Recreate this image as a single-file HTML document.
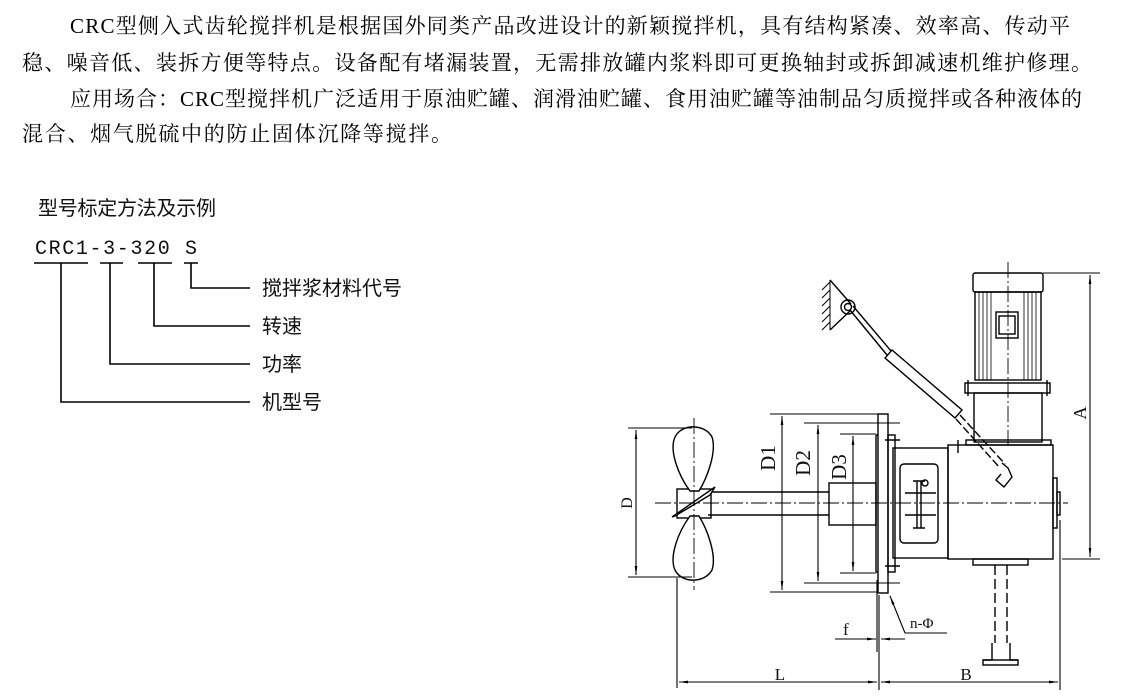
<!DOCTYPE html>
<html><head><meta charset="utf-8"><style>
html,body{margin:0;padding:0;background:#fff;}
svg{display:block;}
.t{font-family:"Liberation Serif","Noto Serif CJK SC",serif;font-size:21px;fill:#000;}
.s{font-family:"Liberation Sans","Noto Sans CJK SC",sans-serif;font-size:20px;fill:#111;}
</style></head><body>
<svg width="1131" height="699" viewBox="0 0 1131 699" xmlns="http://www.w3.org/2000/svg">
<defs>
<marker id="a" viewBox="0 0 10 10" refX="10" refY="5" markerWidth="9" markerHeight="9" orient="auto-start-reverse" markerUnits="userSpaceOnUse"><path d="M0,3.5 L10,5 L0,6.5 z" fill="#000"/></marker>
</defs>
<text class="t" x="70" y="33" textLength="1000" lengthAdjust="spacing">CRC型侧入式齿轮搅拌机是根据国外同类产品改进设计的新颖搅拌机，具有结构紧凑、效率高、传动平</text>
<text class="t" x="22" y="70" textLength="1070" lengthAdjust="spacing">稳、噪音低、装拆方便等特点。设备配有堵漏装置，无需排放罐内浆料即可更换轴封或拆卸减速机维护修理。</text>
<text class="t" x="70" y="106" textLength="1012" lengthAdjust="spacing">应用场合：CRC型搅拌机广泛适用于原油贮罐、润滑油贮罐、食用油贮罐等油制品匀质搅拌或各种液体的</text>
<text class="t" x="22" y="141" textLength="430" lengthAdjust="spacing">混合、烟气脱硫中的防止固体沉降等搅拌。</text>

<text class="s" x="38" y="215" textLength="178" lengthAdjust="spacing">型号标定方法及示例</text>
<text x="35" y="254" font-family="Liberation Mono,monospace" font-size="20" fill="#111" textLength="162" lengthAdjust="spacing">CRC1-3-320 S</text>
<g stroke="#000" stroke-width="1.6" fill="none">
<path d="M34 263H88M100 263H123M138 263H172M184 263H198"/>
<path d="M191 263V288H250M154 263V326H250M110 263V364H250M61 263V402H250"/>
</g>
<text class="s" x="262" y="295">搅拌浆材料代号</text>
<text class="s" x="262" y="333">转速</text>
<text class="s" x="262" y="371">功率</text>
<text class="s" x="262" y="409">机型号</text>

<g stroke="#000" stroke-width="1.4" fill="none">
<!-- motor -->
<rect x="973" y="273" width="70" height="19" rx="2"/>
<rect x="975" y="292" width="66" height="88"/>
<path d="M979 292V380M983 292V380M987 292V380M991 292V380M1024 292V380M1028 292V380M1032 292V380M1036 292V380" stroke-width="0.8"/>
<rect x="996" y="312" width="22" height="26"/><rect x="999" y="316" width="16" height="18"/>
<rect x="965" y="383" width="85" height="10"/>
<path d="M968 380V396M1047 380V396"/>
<rect x="974" y="393" width="68" height="49"/>
<rect x="966" y="440" width="85" height="5"/>
<!-- gearbox -->
<rect x="948" y="445" width="105" height="114"/>
<rect x="1053" y="478" width="4" height="50"/><rect x="1057" y="492" width="3" height="23"/>
<rect x="973" y="559" width="55" height="6"/>
<path d="M958 440V453"/>
<!-- coupling -->
<rect x="893" y="448" width="55" height="110"/>
<rect x="900" y="464" width="38" height="79" rx="4"/>
<path d="M917 481V528M921 481V528M913 481H925M913 528H925M905 493H936M905 515H936"/>
<circle cx="925" cy="483" r="3"/>
<!-- flanges -->
<rect x="878" y="414" width="10" height="179"/>
<rect x="888" y="435" width="7" height="137"/>
<path d="M876 435V572M876 435H878M876 572H878"/>
<path d="M885 440H900M885 566H900"/>
<!-- hub, shaft -->
<rect x="829" y="483" width="47" height="42"/>
<path d="M708 492H829M708 515H829"/>
<!-- propeller -->
<rect x="677" y="489" width="34" height="29"/>
<path d="M690 491C678 475 669 450 675 437C682 423 705 424 712 437C717 452 707 478 699 491Z" fill="#fff"/>
<path d="M690 516C678 532 669 557 675 570C682 584 705 583 712 570C717 555 707 529 699 516Z" fill="#fff"/>
<path d="M672 517L715 487L710 495L675 516Z" fill="#fff"/>
<!-- support -->
<path d="M995 565V643M1007 565V643" stroke-dasharray="10,4"/>
<path d="M992 643V660H983M1010 643V660H1018" />
<rect x="983" y="660" width="35" height="5"/>
<!-- bracket -->
<path d="M830 280V330M830 282L822 290M830 290L822 298M830 298L822 306M830 306L822 314M830 314L822 322M830 322L822 330" stroke-width="1"/>
<path d="M830 280L851 304M830 330L851 310"/>
<circle cx="848" cy="307" r="7"/><circle cx="848" cy="307" r="3.5"/>
<path d="M853 306L891 351M850 310L887 355"/>
<path d="M892 350L962 410L955 418L885 358Z"/>
<path d="M960 415L1005 464M956 419L1000 468" stroke-dasharray="8,3"/>
<path d="M1002 463L1008 468L1012 477L1004 487L996 480L1001 474" />
</g>
<!-- centerlines -->
<g stroke="#000" stroke-width="0.9" fill="none" stroke-dasharray="16,3,2,3">
<path d="M655 503H1068"/>
<path d="M694 418V590"/>
<path d="M1008 262V445"/>
</g>
<!-- dimensions -->
<g stroke="#000" stroke-width="1.1" fill="none">
<path d="M628 428H692M628 577H692"/>
<path d="M636 430V575" marker-start="url(#a)" marker-end="url(#a)"/>
<path d="M770 414H878M804 423H900M840 434H876M840 573H876M804 583H900M770 592H878"/>
<path d="M782 416V590" marker-start="url(#a)" marker-end="url(#a)"/>
<path d="M818 425V581" marker-start="url(#a)" marker-end="url(#a)"/>
<path d="M853 436V571" marker-start="url(#a)" marker-end="url(#a)"/>
<path d="M677 578V688M879 595V690M877 580V652M1060 520V690"/>
<path d="M679 682H877" marker-start="url(#a)" marker-end="url(#a)"/>
<path d="M881 682H1058" marker-start="url(#a)" marker-end="url(#a)"/>
<path d="M835 639H876" marker-end="url(#a)"/><path d="M905 639H881" marker-end="url(#a)"/>
<path d="M905 633L890 596" marker-end="url(#a)"/><path d="M905 633H947"/>
<path d="M1043 273H1100M1062 559H1100"/>
<path d="M1090 275V557" marker-start="url(#a)" marker-end="url(#a)"/>
</g>
<g font-family="Liberation Serif,serif" font-size="21" fill="#111">
<text transform="translate(632,503) rotate(-90)" text-anchor="middle" font-size="16">D</text>
<text transform="translate(775,458) rotate(-90)" text-anchor="middle">D1</text>
<text transform="translate(810,463) rotate(-90)" text-anchor="middle">D2</text>
<text transform="translate(846,467) rotate(-90)" text-anchor="middle">D3</text>
<text transform="translate(1086,413) rotate(-90)" text-anchor="middle" font-size="18">A</text>
<text x="780" y="680" text-anchor="middle" font-size="17">L</text>
<text x="966" y="680" text-anchor="middle" font-size="17">B</text>
<text x="843" y="635" font-size="17">f</text>
<text x="910" y="628" font-size="15">n-Φ</text>
</g>
</svg>
</body></html>
